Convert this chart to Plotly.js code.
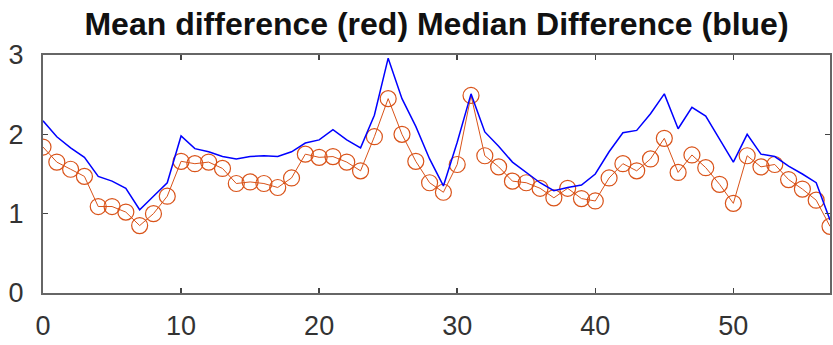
<!DOCTYPE html>
<html>
<head>
<meta charset="utf-8">
<script src="https://cdn.plot.ly/plotly-3.0.1.min.js"></script>
<style>html,body{margin:0;padding:0;background:#fff}#chart{width:833px;height:345px}</style>
</head>
<body>
<div id="chart"></div>
<script>
const xIndex = [0,1,2,3,4,5,6,7,8,9,10,11,12,13,14,15,16,17,18,19,20,21,22,23,24,25,26,27,28,29,30,31,32,33,34,35,36,37,38,39,40,41,42,43,44,45,46,47,48,49,50,51,52,53,54,55,56,57];
const meanDiff = [1.84,1.65,1.56,1.47,1.09,1.09,1.02,0.85,1.0,1.22,1.66,1.63,1.65,1.57,1.38,1.40,1.38,1.33,1.45,1.75,1.71,1.72,1.65,1.54,1.97,2.45,2.0,1.66,1.39,1.27,1.62,2.49,1.73,1.59,1.41,1.39,1.32,1.2,1.32,1.19,1.16,1.45,1.63,1.54,1.69,1.95,1.52,1.74,1.58,1.37,1.13,1.73,1.59,1.62,1.43,1.31,1.17,0.84];
const medianDiff = [2.17,1.97,1.83,1.71,1.47,1.41,1.32,1.05,1.22,1.39,1.98,1.82,1.78,1.72,1.69,1.72,1.73,1.72,1.78,1.89,1.93,2.06,1.93,1.83,2.24,2.96,2.45,2.1,1.69,1.35,1.9,2.51,2.03,1.85,1.65,1.52,1.39,1.29,1.33,1.36,1.5,1.78,2.02,2.05,2.26,2.51,2.07,2.34,2.23,1.94,1.65,2.0,1.75,1.72,1.6,1.5,1.39,0.92];
const xTicks = [0,10,20,30,40,50];
const yTicks = [0,1,2,3];
const titleText = 'Mean difference (red) Median Difference (blue)';

const traces = [
  {x: xIndex, y: meanDiff, type: 'scatter', mode: 'lines+markers',
   line: {color: '#D95319', width: 1},
   marker: {symbol: 'circle-open', size: 16, color: '#D95319', line: {width: 1.2, color: '#D95319'}},
   hoverinfo: 'skip'},
  {x: xIndex, y: medianDiff, type: 'scatter', mode: 'lines',
   line: {color: '#0000FF', width: 1.5}, hoverinfo: 'skip'}
];

const axisCommon = {
  showgrid: false, zeroline: false, showline: true, linecolor: '#666', linewidth: 2,
  mirror: 'ticks', ticks: 'inside', ticklen: 5, tickwidth: 1.5, tickcolor: '#444',
  tickfont: {family: 'Liberation Sans, Arial, sans-serif', size: 27, color: '#333'}
};

const layout = {
  width: 833, height: 345,
  margin: {l: 43, r: 3, t: 55, b: 52},
  paper_bgcolor: '#fff', plot_bgcolor: '#fff',
  showlegend: false,
  title: {text: '<b>' + titleText + '</b>', xref: 'paper', x: 0.5, xanchor: 'center', y: 0.93, yanchor: 'middle',
          font: {family: 'Liberation Sans, Arial, sans-serif', size: 32, color: '#111'}},
  xaxis: Object.assign({}, axisCommon, {range: [0, 57], tickvals: xTicks, ticktext: xTicks.map(String), ticklabelstandoff: 8}),
  yaxis: Object.assign({}, axisCommon, {range: [0, 3], tickvals: yTicks, ticktext: yTicks.map(String), ticklabelstandoff: 12})
};

Plotly.newPlot('chart', traces, layout, {staticPlot: true, displayModeBar: false});
</script>
</body>
</html>
